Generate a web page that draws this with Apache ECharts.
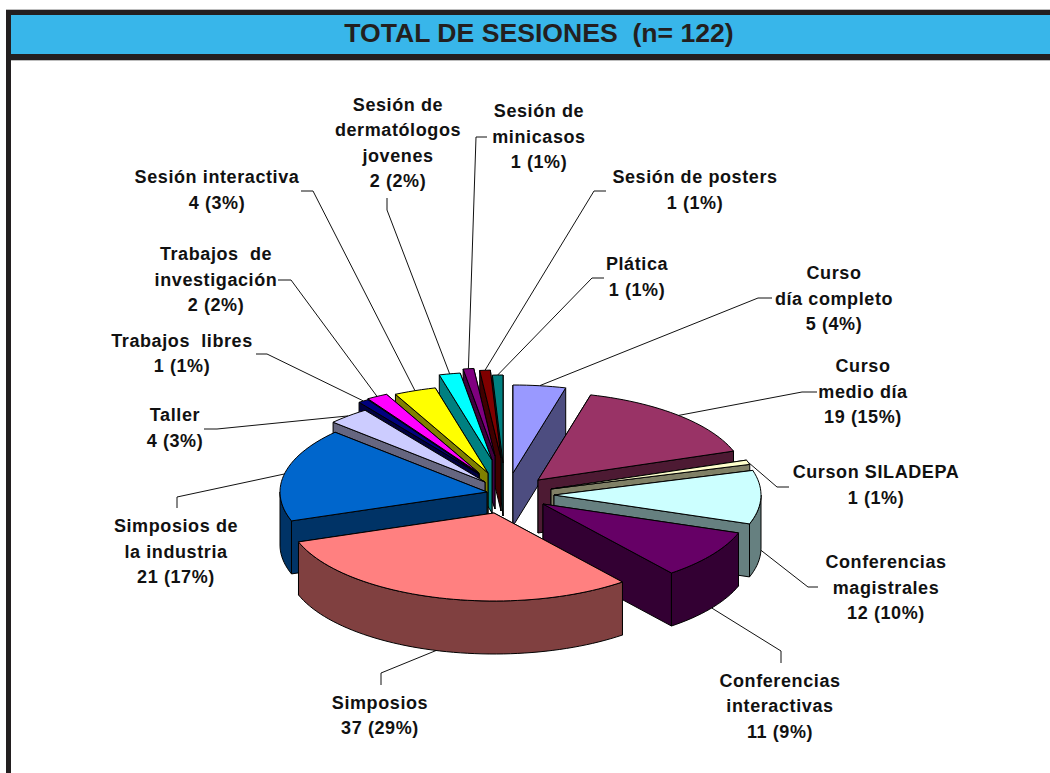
<!DOCTYPE html>
<html>
<head>
<meta charset="utf-8">
<style>
html,body{margin:0;padding:0;background:#fff;}
#chart{width:1050px;height:773px;}
#chart text{letter-spacing:0.6px;}
#chart text[style*="26.6px"]{letter-spacing:0;}
</style>
<script src="https://cdn.jsdelivr.net/npm/echarts@6/dist/echarts.min.js"></script>
</head>
<body>
<div id="chart"></div>
<script>
// ---- data ----
const titleText = 'TOTAL DE SESIONES  (n= 122)';
const categories = ['Curso\ndía completo','Curso\nmedio día','Curson SILADEPA','Conferencias\nmagistrales','Conferencias\ninteractivas','Simposios','Simposios de\nla industria','Taller','Trabajos  libres','Trabajos  de\ninvestigación','Sesión interactiva','Sesión de\ndermatólogos\njovenes','Sesión de\nminicasos','Sesión de posters','Plática'];
const sessions = [5,19,1,12,11,37,21,4,1,2,4,2,1,1,1];
const percents = [4,15,1,10,9,29,17,3,1,2,3,2,1,1,1];

// ---- styling and layout, apart from the data ----
const topColors = ['#9999FF','#993366','#FFFFCC','#CCFFFF','#660066','#FF8080','#0066CC','#CCCCFF','#000080','#FF00FF','#FFFF00','#00FFFF','#800080','#800000','#008080'];
const sideColors = ['#4D4D80','#4D1A33','#808066','#668080','#330033','#804040','#003366','#666680','#000040','#800080','#808000','#008080','#400040','#400000','#004040'];
const pieCenter = [500,490], radiusX = 207, radiusY = 88, wallDepth = 53;
const sliceShift = [[13,-17],[38,-10],[51,-1],[54,5],[43,14],[-6,23],[-13,2],[-15,-8],[-21,-16],[-21,-17],[-12,-17],[-8,-30],[-5,-34],[1,-32],[3,-27]];
const labelCenter = [[834,298.5],[863,391.5],[876,485],[886,587.5],[780,706],[380,715.5],[176,551.5],[175,428],[182,353.5],[216,279.5],[217,190],[398,143],[539,136.5],[695,190],[637,277]];
const leaderStart = [[[772,298],[758,298]],[[817,392],[802,392]],[[789,487],[777,487]],[[818,587],[808,587]],[[781,663],[781,651]],[[381,685],[381,673]],[[177,508],[177,497]],[[204,429],[217,429]],[[256,354],[267,354]],[[278,280],[291,280]],[[301,191],[313,191]],[[387,198],[387,210]],[[487,137],[476,137]],[[606,191],[594,191]],[[604,278],[592,278]]];

const total = sessions.reduce((a,b)=>a+b,0);
const cumulative = sessions.reduce((acc,v)=>{acc.push(acc[acc.length-1]+v);return acc;},[0]);
const toRad = d => d*Math.PI/180;
const angleOf = c => c/total*360;
const midCos = i => Math.cos(toRad((angleOf(cumulative[i])+angleOf(cumulative[i+1]))/2));
// back slices are painted first
const paintRank = sessions.map((_,i)=>i).sort((a,b)=>midCos(b)-midCos(a));

function renderSlice(params, api){
  const i = api.value(0);
  const a0 = angleOf(cumulative[i]), a1 = angleOf(cumulative[i+1]), mid = (a0+a1)/2;
  const ox = sliceShift[i][0]/radiusX, oy = -sliceShift[i][1]/radiusY;
  const drop = wallDepth/radiusY;
  const P = (a,d) => api.coord([ox+Math.sin(toRad(a)), oy+Math.cos(toRad(a))-d]);
  const C = d => api.coord([ox, oy-d]);
  const arc = (from,to,d) => {
    const n = Math.max(2,Math.ceil(Math.abs(to-from)/2)), pts=[];
    for(let k=0;k<=n;k++) pts.push(P(from+(to-from)*k/n,d));
    return pts;
  };
  const rank = paintRank.indexOf(i)*10+10;
  const edge = {stroke:'#000',lineWidth:1,lineJoin:'round'};
  const poly = (points,fill,z) => ({type:'polygon',shape:{points},z2:z,silent:true,style:Object.assign({fill},edge)});
  const kids = [];
  // cut faces, back one first
  const faces = Math.cos(toRad(a0))>Math.cos(toRad(a1)) ? [a0,a1] : [a1,a0];
  faces.forEach((a,k)=>kids.push(poly([C(0),P(a,0),P(a,drop),C(drop)],sideColors[i],rank+k)));
  // outer wall: only the front half of the rim is seen
  const w0 = Math.max(a0,90), w1 = Math.min(a1,270);
  if(w1>w0) kids.push(poly(arc(w0,w1,0).concat(arc(w1,w0,drop)),sideColors[i],rank+3));
  // top face
  kids.push(poly([C(0)].concat(arc(a0,a1,0)),topColors[i],rank+4));
  // leader line runs from the label to the rim at the slice's mid angle
  const end = P(mid, Math.cos(toRad(mid))<0 ? drop : 0);
  kids.push({type:'polyline',shape:{points:[leaderStart[i][0],leaderStart[i][1],end]},z2:1,silent:true,style:{fill:null,stroke:'#111',lineWidth:1}});
  // label
  kids.push({type:'text',z2:500,silent:true,style:{
    text:categories[i]+'\n'+sessions[i]+' ('+percents[i]+'%)',
    x:labelCenter[i][0],y:labelCenter[i][1],
    textAlign:'center',textVerticalAlign:'middle',
    font:'bold 18px "Liberation Sans", Arial, sans-serif',lineHeight:25.5,fill:'#111'
  }});
  return {type:'group',children:kids};
}

const chart = echarts.init(document.getElementById('chart'),null,{renderer:'svg'});
chart.setOption({
  animation:false,
  backgroundColor:'#fff',
  title:{text:titleText,left:534,top:11,textAlign:'center',
    textStyle:{fontFamily:'"Liberation Sans", Arial, sans-serif',fontWeight:'bold',fontSize:26.6,color:'#231F20',lineHeight:34}},
  grid:{left:pieCenter[0]-radiusX,top:pieCenter[1]-radiusY,width:radiusX*2,height:radiusY*2},
  xAxis:{type:'value',min:-1,max:1,show:false},
  yAxis:{type:'value',min:-1,max:1,show:false},
  graphic:[
    {type:'rect',z:-3,silent:true,shape:{x:6,y:9,width:1044,height:52},style:{fill:'#bdbdbd'}},
    {type:'rect',z:-2,silent:true,shape:{x:6,y:10,width:1044,height:50},style:{fill:'#231F20'}},
    {type:'rect',z:-2,silent:true,shape:{x:6,y:60,width:5,height:713},style:{fill:'#231F20'}},
    {type:'rect',z:-1,silent:true,shape:{x:11,y:15,width:1039,height:39},style:{fill:'#38B6EA'}}
  ],
  series:[{type:'custom',coordinateSystem:'cartesian2d',clip:false,renderItem:renderSlice,
    data:sessions.map((v,i)=>[i,v]),encode:{x:0,y:1}}]
});
</script>
</body>
</html>
